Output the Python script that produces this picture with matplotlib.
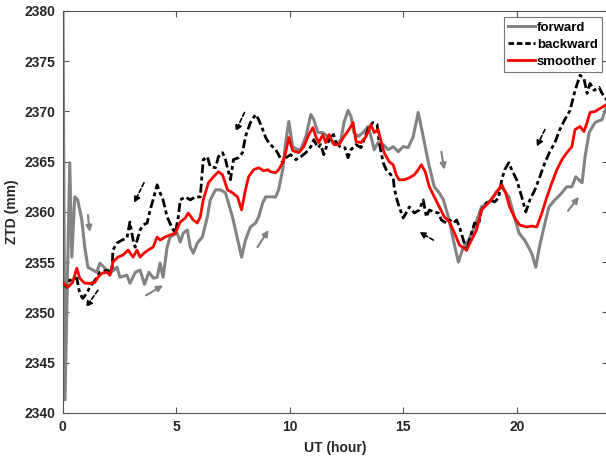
import matplotlib
matplotlib.use("Agg")
import matplotlib.pyplot as plt

# ---------------- data ----------------
fwd_x = [0, 0.1, 0.31, 0.40, 0.53, 0.66, 0.84, 0.97, 1.11, 1.50,
         1.64, 2.08, 2.39, 2.52, 2.83, 2.96, 3.2, 3.41, 3.6, 3.8,
         4.0, 4.16, 4.29, 4.42, 4.60, 4.73, 5.04, 5.18, 5.31, 5.49,
         5.62, 5.75, 5.93, 6.15, 6.37, 6.50, 6.73, 6.95, 7.17, 7.30,
         7.48, 7.61, 7.74, 7.88, 8.05, 8.27, 8.50, 8.63, 8.81, 8.94,
         9.16, 9.38, 9.51, 9.69, 9.82, 9.96, 10.13, 10.35, 10.49, 10.71,
         10.93, 11.06, 11.24, 11.46, 11.68, 11.90, 12.04, 12.26, 12.39, 12.57,
         12.70, 12.83, 13.01, 13.23, 13.45, 13.58, 13.72, 13.89, 14.12, 14.34,
         14.56, 14.78, 15.00, 15.22, 15.44, 15.66, 15.88, 16.11, 16.37, 16.59,
         16.77, 16.99, 17.21, 17.43, 17.65, 17.88, 18.14, 18.45, 18.7, 18.89,
         19.1, 19.34, 19.65, 19.9, 20.1, 20.35, 20.66, 20.84, 21.0, 21.2,
         21.42, 21.68, 21.99, 22.2, 22.43, 22.6, 22.74, 22.88, 23.01, 23.19,
         23.45, 23.76, 24.0]
fwd_y = [2385, 2341.3, 2364.9, 2355.5, 2361.5, 2361.2, 2359.2, 2356.5, 2354.5, 2354.0,
         2354.9, 2353.9, 2354.5, 2353.5, 2353.7, 2352.9, 2354.0, 2354.2, 2352.8, 2354.0,
         2353.4, 2353.5, 2354.9, 2353.5, 2356.5, 2357.5, 2357.9, 2357.0, 2357.9, 2358.2,
         2356.5, 2355.9, 2356.9, 2357.5, 2359.5, 2361.2, 2362.2, 2362.2, 2361.9, 2360.9,
         2359.5, 2358.2, 2356.9, 2355.5, 2357.2, 2358.5, 2358.9, 2359.5, 2360.9, 2361.5,
         2361.5, 2361.5, 2362.2, 2364.2, 2366.9, 2369.0, 2366.5, 2366.2, 2366.2, 2367.5,
         2369.7, 2369.2, 2367.9, 2367.9, 2367.5, 2366.9, 2366.7, 2367.2, 2368.9, 2370.1,
         2369.5, 2367.9, 2367.5, 2367.9, 2368.5, 2367.5, 2366.2, 2366.9, 2366.7, 2366.2,
         2366.5, 2366.0, 2366.5, 2366.4, 2367.5, 2369.9, 2367.5, 2364.9, 2362.5, 2361.9,
         2361.2, 2359.5, 2357.2, 2355.0, 2356.5, 2357.2, 2358.5, 2360.5, 2360.9, 2361.2,
         2362.0, 2362.5, 2361.5, 2359.5, 2357.9, 2357.2, 2355.9, 2354.5, 2356.5, 2358.5,
         2360.5, 2361.2, 2361.9, 2362.5, 2362.5, 2363.5, 2363.2, 2362.9, 2365.5, 2367.9,
         2368.9, 2369.2, 2370.8]

bwd_x = [0, 0.18, 0.31, 0.62, 0.75, 0.88, 1.06, 1.19, 1.42, 1.64,
         1.95, 2.17, 2.21, 2.39, 2.61, 2.83, 2.96, 3.10, 3.19, 3.41,
         3.54, 3.72, 3.85, 3.98, 4.16, 4.29, 4.42, 4.60, 4.82, 4.96,
         5.09, 5.18, 5.40, 5.62, 5.84, 6.06, 6.19, 6.37, 6.50, 6.73,
         6.86, 7.04, 7.17, 7.39, 7.52, 7.74, 7.92, 8.05, 8.27, 8.50,
         8.63, 8.81, 8.94, 9.07, 9.38, 9.51, 9.69, 9.82, 10.04, 10.27,
         10.49, 10.71, 10.93, 11.06, 11.24, 11.37, 11.50, 11.68, 11.90, 12.04,
         12.26, 12.43, 12.57, 12.70, 12.92, 13.14, 13.27, 13.50, 13.67, 13.85,
         13.94, 14.12, 14.25, 14.38, 14.56, 14.60, 14.69, 14.82, 15.00, 15.13,
         15.27, 15.49, 15.71, 15.88, 16.02, 16.15, 16.33, 16.55, 16.68, 16.90,
         17.04, 17.21, 17.35, 17.48, 17.65, 17.79, 18.01, 18.14, 18.32, 18.45,
         18.67, 18.81, 19.03, 19.20, 19.34, 19.47, 19.65, 19.78, 20.0, 20.22,
         20.40, 20.58, 20.80, 21.02, 21.24, 21.46, 21.68, 21.90, 22.12, 22.35,
         22.57, 22.79, 22.96, 23.10, 23.23, 23.41, 23.63, 23.76, 23.98]
bwd_y = [2353.0, 2352.5, 2353.2, 2353.4, 2351.9, 2351.4, 2351.9, 2352.5, 2353.2, 2354.0,
         2354.2, 2354.0, 2356.2, 2356.9, 2357.2, 2357.4, 2359.0, 2357.2, 2356.5, 2358.2,
         2358.7, 2358.9, 2360.2, 2361.2, 2362.7, 2361.9, 2361.2, 2359.5, 2358.4, 2357.9,
         2359.5, 2361.2, 2361.5, 2361.2, 2361.5, 2361.5, 2365.2, 2365.5, 2364.5, 2364.4,
         2365.5, 2365.9, 2365.2, 2363.2, 2365.2, 2365.4, 2365.9, 2367.5, 2368.9, 2369.7,
         2369.2, 2368.2, 2367.4, 2366.9, 2366.2, 2365.7, 2364.9, 2365.4, 2365.7, 2365.2,
         2365.5, 2365.9, 2366.5, 2367.2, 2366.4, 2366.7, 2365.7, 2366.9, 2367.9, 2366.9,
         2366.4, 2366.4, 2365.4, 2366.2, 2366.7, 2366.4, 2367.2, 2368.5, 2368.9, 2368.7,
         2366.9, 2364.9, 2364.2, 2363.9, 2363.4, 2362.5, 2361.5, 2360.5, 2359.4, 2359.9,
         2360.5, 2359.9, 2360.2, 2361.2, 2359.5, 2360.2, 2360.0, 2359.9, 2359.2, 2358.9,
         2359.2, 2358.9, 2359.2, 2358.5, 2357.2, 2356.2, 2357.9, 2358.9, 2358.7, 2360.2,
         2360.9, 2361.2, 2361.0, 2361.4, 2363.2, 2364.2, 2364.9, 2364.2, 2363.2, 2361.5,
         2360.0, 2361.2, 2362.2, 2363.5, 2364.9, 2366.0, 2366.9, 2368.2, 2369.2, 2370.1,
         2372.1, 2373.6, 2373.3, 2371.8, 2372.8, 2372.1, 2372.4, 2371.8, 2371.1]

smo_x = [0, 0.22, 0.44, 0.62, 0.75, 0.97, 1.19, 1.42, 1.55, 1.73,
         1.95, 2.08, 2.21, 2.43, 2.65, 2.88, 3.10, 3.27, 3.41, 3.58,
         3.76, 3.98, 4.16, 4.29, 4.51, 4.73, 4.96, 5.18, 5.40, 5.53,
         5.75, 5.93, 6.06, 6.19, 6.42, 6.64, 6.86, 7.04, 7.26, 7.48,
         7.70, 7.88, 8.05, 8.19, 8.41, 8.63, 8.85, 9.03, 9.16, 9.38,
         9.51, 9.69, 9.82, 9.96, 10.13, 10.40, 10.62, 10.84, 11.02, 11.15,
         11.28, 11.46, 11.59, 11.73, 11.95, 12.17, 12.39, 12.61, 12.79, 12.92,
         13.14, 13.36, 13.58, 13.72, 13.89, 14.03, 14.16, 14.38, 14.56, 14.69,
         14.82, 15.04, 15.27, 15.49, 15.66, 15.80, 15.97, 16.15, 16.37, 16.59,
         16.81, 17.04, 17.26, 17.48, 17.79, 18.01, 18.23, 18.45, 18.76, 19.03,
         19.34, 19.51, 19.69, 19.91, 20.13, 20.44, 20.66, 20.88, 21.11, 21.33,
         21.55, 21.77, 21.99, 22.21, 22.43, 22.57, 22.79, 22.96, 23.10, 23.23,
         23.45, 23.67, 23.89, 24.0]
smo_y = [2353.0, 2352.5, 2353.0, 2354.4, 2353.4, 2352.9, 2352.9, 2353.0, 2353.5, 2353.9,
         2354.0, 2353.7, 2355.0, 2355.5, 2355.7, 2356.2, 2355.5, 2356.2, 2355.5, 2355.9,
         2356.2, 2356.5, 2357.5, 2357.2, 2357.5, 2357.7, 2357.9, 2359.0, 2359.4, 2359.9,
         2359.2, 2358.9, 2359.5, 2361.2, 2362.9, 2363.5, 2364.0, 2363.7, 2362.2, 2361.9,
         2361.5, 2360.2, 2362.2, 2363.5, 2364.2, 2364.4, 2364.1, 2364.2, 2364.0, 2363.9,
         2364.2, 2364.9, 2365.9, 2367.4, 2366.1, 2365.9, 2366.5, 2367.7, 2368.4, 2367.5,
         2366.9, 2367.7, 2366.9, 2367.7, 2366.7, 2366.7, 2367.5, 2368.2, 2368.9, 2367.0,
         2366.9, 2367.5, 2368.7, 2367.9, 2368.2, 2367.0, 2365.9, 2365.0, 2364.7, 2363.7,
         2363.2, 2363.2, 2363.4, 2363.7, 2364.2, 2364.7, 2364.0, 2362.5, 2361.5, 2360.5,
         2359.5, 2359.0, 2357.9, 2356.7, 2356.2, 2357.2, 2358.2, 2360.2, 2360.9, 2361.7,
         2362.7, 2361.9, 2360.5, 2359.4, 2358.7, 2358.5, 2358.6, 2358.5, 2359.9, 2361.5,
         2362.9, 2364.2, 2365.2, 2365.9, 2366.5, 2368.2, 2368.5, 2368.0, 2368.9, 2369.9,
         2370.0, 2370.3, 2370.6, 2370.7]

labels = ["forward", "backward", "smoother"]

# direction arrows: (x_start, y_start, x_end, y_end)
gray_arrows = [(1.11, 2359.7, 1.19, 2358.0),
               (3.67, 2351.7, 4.42, 2352.7),
               (8.58, 2356.5, 9.07, 2358.2),
               (16.68, 2366.0, 16.81, 2364.2),
               (22.26, 2360.1, 22.74, 2361.5)]
black_arrows = [(1.55, 2352.2, 1.02, 2350.5),
                (3.58, 2362.9, 3.14, 2360.9),
                (8.01, 2369.9, 7.61, 2368.0),
                (16.33, 2357.2, 15.71, 2358.0),
                (21.24, 2368.2, 20.88, 2366.5)]

xticks = [0, 5, 10, 15, 20]
yticks = [2340, 2345, 2350, 2355, 2360, 2365, 2370, 2375, 2380]

# ---------------- plot ----------------
plt.rcParams['font.family'] = ['Liberation Sans', 'DejaVu Sans']
plt.rcParams['font.weight'] = 'bold'

fig = plt.figure(figsize=(6.06, 4.58), dpi=100)
ax = fig.add_axes([0.1035, 0.0985, 0.8990, 0.8775])

gray = '#838383'
ax.plot(fwd_x, fwd_y, color=gray, lw=2.2, label=labels[0], zorder=2)
ax.plot(bwd_x, bwd_y, color='black', lw=2.0, dashes=(3.2, 1.2, 1.4, 1.2),
        label=labels[1], zorder=3)
ax.plot(smo_x, smo_y, color='#ff0000', lw=2.0, label=labels[2], zorder=4)

for x0, y0, x1, y1 in gray_arrows:
    ax.annotate('', xy=(x1, y1), xytext=(x0, y0),
                arrowprops=dict(arrowstyle='-|>', color=gray, lw=1.5,
                                mutation_scale=9, shrinkA=0, shrinkB=0),
                zorder=5)
for x0, y0, x1, y1 in black_arrows:
    ax.annotate('', xy=(x1, y1), xytext=(x0, y0),
                arrowprops=dict(arrowstyle='-|>', color='black', lw=1.2,
                                linestyle=(0, (2.5, 1.5)),
                                mutation_scale=9, shrinkA=0, shrinkB=0),
                zorder=5)

ax.set_xlim(0, 24)
ax.set_ylim(2340, 2380)
ax.set_xticks(xticks)
ax.set_yticks(yticks)
ax.tick_params(direction='in', length=4, width=0.8, top=True, right=True,
               labelsize=10, colors='#555555', labelcolor='#262626', pad=5)
for s in ax.spines.values():
    s.set_color('#555555')
    s.set_linewidth(0.8)

ax.set_xlabel('UT (hour)', fontsize=10, fontweight='bold', color='#262626', labelpad=5)
ax.set_ylabel('ZTD (mm)', fontsize=10, fontweight='bold', color='#262626', labelpad=4)

leg = ax.legend(loc='upper right', bbox_to_anchor=(0.9905, 0.985), fontsize=9.5,
                frameon=True, fancybox=False, edgecolor='#555555',
                handlelength=2.0, handletextpad=0.15, borderpad=0.35,
                labelspacing=0.35, borderaxespad=0.0)
leg.get_frame().set_linewidth(0.8)
leg.get_lines()[1].set_dashes((2.0, 1.0))
for t in leg.get_texts():
    t.set_fontweight('bold')

fig.savefig('out.png', dpi=100)
